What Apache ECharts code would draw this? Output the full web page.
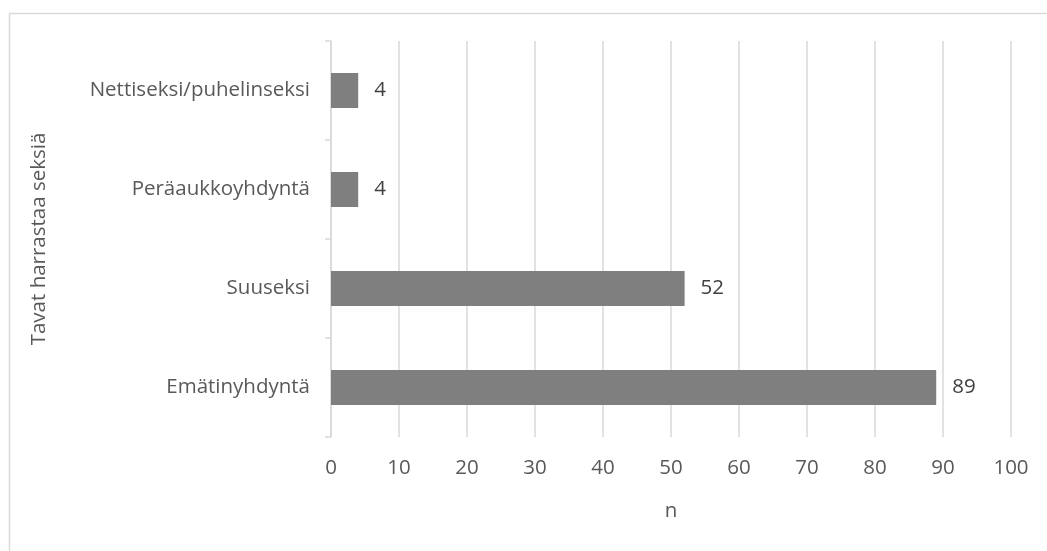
<!DOCTYPE html>
<html>
<head>
<meta charset="utf-8">
<script src="https://cdn.jsdelivr.net/npm/echarts@6/dist/echarts.min.js"></script>
<style>
html, body { margin: 0; padding: 0; background: #fff; }
#chartBox { width: 1047px; height: 551px; }
</style>
</head>
<body>
<div id="chartBox"></div>
<script>
// kategoriat alhaalta ylös
const categories = ['Emätinyhdyntä', 'Suuseksi', 'Peräaukkoyhdyntä', 'Nettiseksi/puhelinseksi'];
const values = [89, 52, 4, 4];
const xTicks = [0, 10, 20, 30, 40, 50, 60, 70, 80, 90, 100];

const fontFamily = '"Open Sans", "Liberation Sans", sans-serif';
const fs = 20.5;
const myChart = echarts.init(document.getElementById('chartBox'));

const option = {
    animation: false,
    textStyle: { fontFamily: fontFamily },
    graphic: [
        {
            // kehys (oikea ja ala reuna jäävät kuvan ulkopuolelle)
            type: 'rect',
            left: 7,
            top: 11,
            shape: { width: 1100, height: 600 },
            style: { fill: 'none', stroke: '#d9d9d9', lineWidth: 1.5 },
            silent: true
        }
    ],
    grid: {
        left: 331,
        right: 36,
        top: 41,
        bottom: 114,
        containLabel: false
    },
    xAxis: {
        type: 'value',
        min: xTicks[0],
        max: xTicks[xTicks.length - 1],
        interval: 10,
        name: 'n',
        nameLocation: 'middle',
        nameGap: 64,
        nameTextStyle: { color: '#595959', fontSize: fs, fontFamily: fontFamily },
        axisLine: { show: false },
        axisTick: { show: false },
        axisLabel: { color: '#595959', fontSize: fs, margin: 21, fontFamily: fontFamily },
        splitLine: { show: true, lineStyle: { color: '#d9d9d9', width: 1.5 } }
    },
    yAxis: {
        type: 'category',
        data: categories,
        name: 'Tavat harrastaa seksiä',
        nameLocation: 'middle',
        nameGap: 281,
        nameRotate: 90,
        nameTextStyle: { color: '#595959', fontSize: fs, fontFamily: fontFamily },
        axisLine: { show: true, lineStyle: { color: '#d9d9d9', width: 1.5 } },
        axisTick: { show: true, length: 6, lineStyle: { color: '#d9d9d9', width: 1.5 } },
        axisLabel: { color: '#595959', fontSize: fs, margin: 21, fontFamily: fontFamily }
    },
    series: [
        {
            type: 'bar',
            data: values,
            barWidth: 35,
            itemStyle: { color: '#7f7f7f' },
            label: {
                show: true,
                position: 'right',
                distance: 16,
                color: '#404040',
                fontSize: fs,
                fontFamily: fontFamily
            }
        }
    ]
};
myChart.setOption(option);
</script>
</body>
</html>
